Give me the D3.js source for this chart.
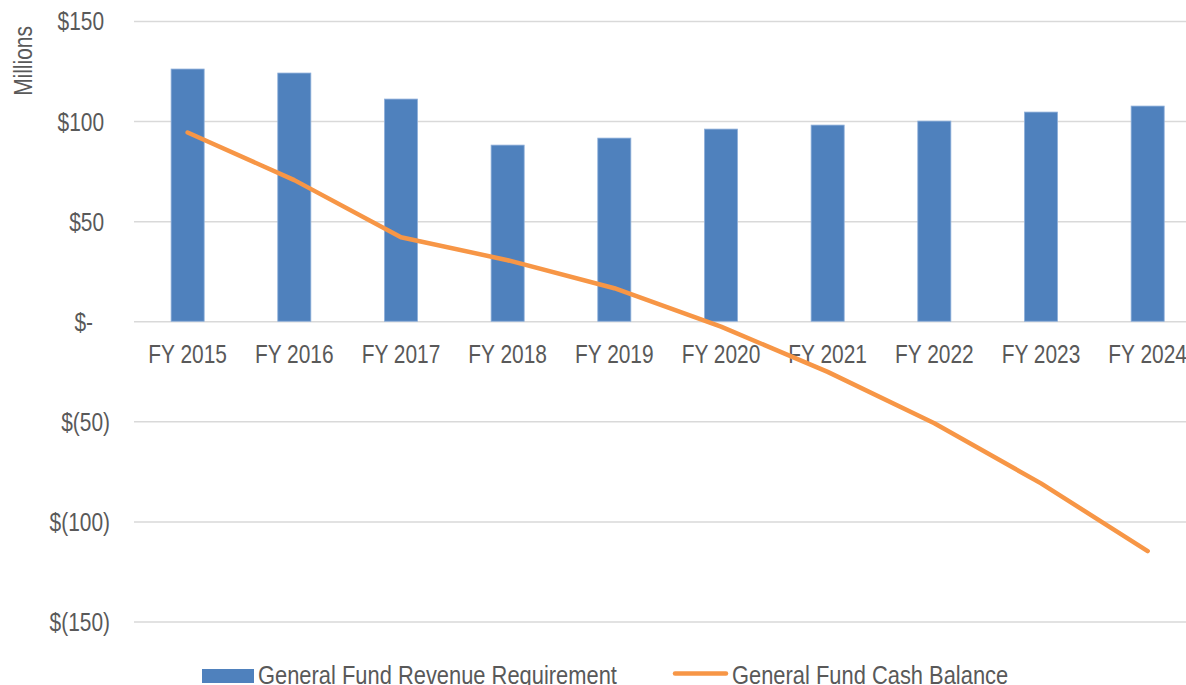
<!DOCTYPE html>
<html>
<head>
<meta charset="utf-8">
<script src="https://cdn.jsdelivr.net/npm/d3@7"></script>
<style>
  body { margin: 0; background: #fff; }
  svg text { font-family: "Liberation Sans", Arial, sans-serif; fill: #595959; }
</style>
</head>
<body>
<div id="chart"></div>
<script>
// data (millions of dollars)
let categories = ["FY 2015", "FY 2016", "FY 2017", "FY 2018", "FY 2019", "FY 2020", "FY 2021", "FY 2022", "FY 2023", "FY 2024"];
let revenueRequirement = [126, 124, 111, 88, 91.5, 96, 98, 100, 104.5, 107.5];
let cashBalance = [94.3, 70.5, 42, 30.5, 16.5, -2.7, -25.3, -51, -81, -114.8];
let yTicks = [150, 100, 50, 0, -50, -100, -150];
let seriesNames = ["General Fund Revenue Requirement", "General Fund Cash Balance"];

// SVG size
let width = 1186;
let height = 685;

// the reference uses a narrow face: squeeze regular Liberation Sans
let narrow = 0.82;
let fontSize = 25.5;
let legendFontSize = 26.7;

let svg = d3.select("#chart")
  .append("svg")
  .attr("width", width)
  .attr("height", height);

// scales
let fnXScale = d3.scaleBand()
  .domain(categories)
  .range([134.3, 1201])
  .paddingInner(0.69)
  .paddingOuter(0.345);

let fnYScale = d3.scaleLinear()
  .domain([-150, 150])
  .range([621.5, 21]);

// accounting style labels
let fnMoney = v => v > 0 ? "$" + v : (v < 0 ? "$(" + (-v) + ")" : "$-");

// y axis with gridlines
let gY = svg.append("g")
  .attr("transform", "translate(134, 0)")
  .call(d3.axisLeft(fnYScale)
    .tickValues(yTicks)
    .tickFormat(fnMoney)
    .tickSizeInner(-(width - 134))
    .tickSizeOuter(0));
gY.select(".domain").remove();
gY.selectAll(".tick line")
  .attr("stroke", "#d9d9d9")
  .attr("stroke-width", 1.5);
gY.selectAll(".tick text")
  .attr("transform", `scale(${narrow}, 1)`)
  .attr("x", v => (v > 0 ? -30 : (v < 0 ? -24 : -41)) / narrow)
  .attr("dy", "0.35em")
  .attr("font-size", fontSize)
  .attr("fill", "#595959");

// bars
svg.selectAll(".bar")
  .data(revenueRequirement)
  .enter()
  .append("rect")
  .attr("class", "bar")
  .attr("x", (d, i) => fnXScale(categories[i]))
  .attr("y", d => fnYScale(d))
  .attr("width", fnXScale.bandwidth())
  .attr("height", d => fnYScale(0) - fnYScale(d))
  .attr("fill", "#4f81bd")
  .attr("stroke", "#8fb0da")
  .attr("stroke-width", 0.8);

// x axis labels (no line, the zero gridline does that job)
let gX = svg.append("g")
  .attr("transform", `translate(0, ${fnYScale(0)})`)
  .call(d3.axisBottom(fnXScale).tickSize(0));
gX.select(".domain").remove();
gX.selectAll(".tick text")
  .attr("transform", `scale(${narrow}, 1)`)
  .attr("y", 42)
  .attr("dy", 0)
  .attr("font-size", fontSize)
  .attr("fill", "#595959");

// cash balance line
let fnLine = d3.line()
  .x((d, i) => fnXScale(categories[i]) + fnXScale.bandwidth() / 2)
  .y(d => fnYScale(d));

svg.append("path")
  .datum(cashBalance)
  .attr("d", fnLine)
  .attr("fill", "none")
  .attr("stroke", "#f79646")
  .attr("stroke-width", 4.5)
  .attr("stroke-linecap", "round")
  .attr("stroke-linejoin", "round");

// y axis title
svg.append("text")
  .attr("transform", `translate(32, 61) rotate(-90) scale(${narrow}, 1)`)
  .attr("text-anchor", "middle")
  .attr("font-size", fontSize)
  .text("Millions");

// legend
let gLegend = svg.append("g");
gLegend.append("rect")
  .attr("x", 202).attr("y", 669)
  .attr("width", 52).attr("height", 14)
  .attr("fill", "#4f81bd");
gLegend.append("text")
  .attr("transform", `translate(258, 684) scale(${narrow}, 1)`)
  .attr("font-size", legendFontSize)
  .text(seriesNames[0]);
gLegend.append("line")
  .attr("x1", 675).attr("x2", 726)
  .attr("y1", 673.5).attr("y2", 673.5)
  .attr("stroke", "#f79646")
  .attr("stroke-width", 4.5)
  .attr("stroke-linecap", "round");
gLegend.append("text")
  .attr("transform", `translate(732, 684) scale(${narrow}, 1)`)
  .attr("font-size", legendFontSize)
  .text(seriesNames[1]);
</script>
</body>
</html>
